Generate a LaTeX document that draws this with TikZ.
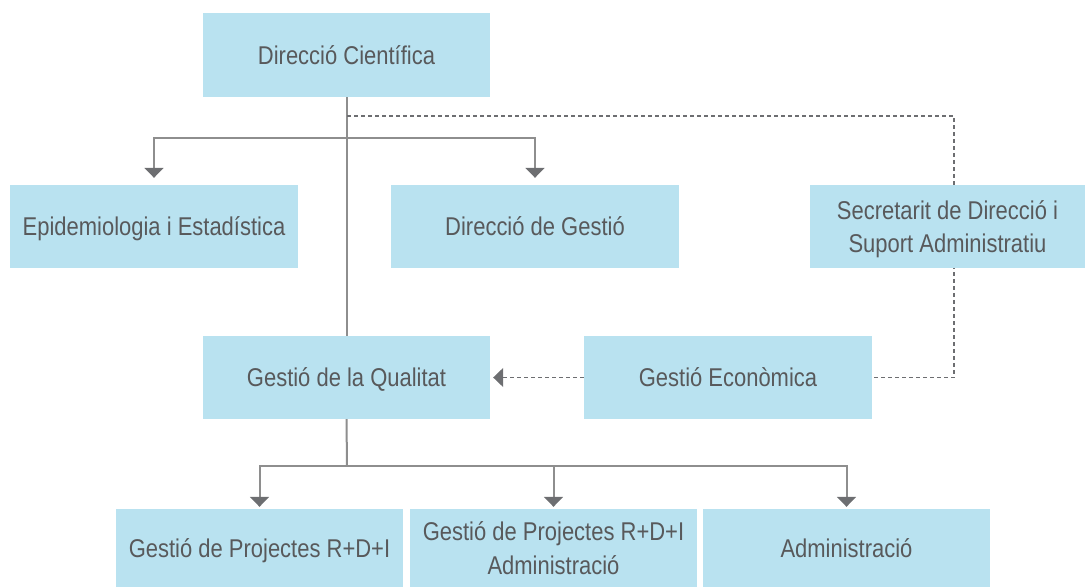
\documentclass[tikz,border=0pt]{standalone}
\usepackage{fontspec}
\setmainfont{Liberation Sans}[FakeStretch=0.855]
\usetikzlibrary{arrows.meta,backgrounds}
\definecolor{boxc}{HTML}{B9E2F0}
\definecolor{txtc}{HTML}{58595B}
\definecolor{linec}{HTML}{8E8E8E}
\definecolor{tipc}{HTML}{6D6E71}
\begin{document}
\begin{tikzpicture}[x=1pt,y=-1pt,
  box/.style={rectangle,fill=boxc,text=txtc,inner sep=0pt,minimum width=287pt,minimum height=83pt,align=center,text depth=0pt,font=\fontsize{25.7}{33.5}\selectfont},
  twoline/.style={text depth=-8pt},
  solidln/.style={draw=linec,line width=2pt},
  solidarr/.style={solidln,-{Triangle[width=19pt,length=10pt,color=tipc]}},
  dashln/.style={draw=tipc,line width=1.2pt,dash pattern=on 4pt off 3pt},
  dasharr/.style={dashln,-{Triangle[width=19pt,length=10pt,color=tipc]}}]
\useasboundingbox (0,0) rectangle (1086,587);
\node[box] (dc) at (346.5,55) [minimum height=84pt] {Direcció Científica};
\node[box,minimum width=288pt] (epi) at (154,226.5) {Epidemiologia i Estadística};
\node[box,minimum width=288pt] (dg) at (535,226.5) {Direcció de Gestió};
\node[box,twoline,minimum width=275pt] (sec) at (947.5,226.5) {Secretarit de Direcció i\\Suport Administratiu};
\node[box] (gq) at (346.5,377.5) {Gestió de la Qualitat};
\node[box,minimum width=288pt] (ge) at (728,377.5) {Gestió Econòmica};
\node[box,minimum height=78pt] (p1) at (259.5,548) {Gestió de Projectes R+D+I};
\node[box,twoline,minimum height=78pt] (p2) at (553.5,548) {Gestió de Projectes R+D+I\\Administració};
\node[box,minimum height=78pt] (adm) at (846.5,548) {Administració};
\coordinate (j1) at (347,138);
\coordinate (j2) at (347,466);
\coordinate (d1) at (347,116);
\coordinate (d2) at (954,116);
\begin{pgfonlayer}{background}
\draw[solidln] (dc.south) -- (gq.north);
\draw[solidarr,shorten >=7pt] (j1) -| (epi.north);
\draw[solidarr,shorten >=7pt] (j1) -| (dg.north);
\draw[dashln] (d1) -- (d2) |- (ge.east);
\draw[dasharr,shorten >=3pt] (ge.west) -- (gq.east);
\draw[solidln] (gq.south) -- (j2);
\draw[solidarr,shorten >=2pt] (j2) -| (p1.north);
\draw[solidarr,shorten >=2pt] (j2) -| (p2.north);
\draw[solidarr,shorten >=2pt] (j2) -| (adm.north);
\end{pgfonlayer}
\end{tikzpicture}
\end{document}
